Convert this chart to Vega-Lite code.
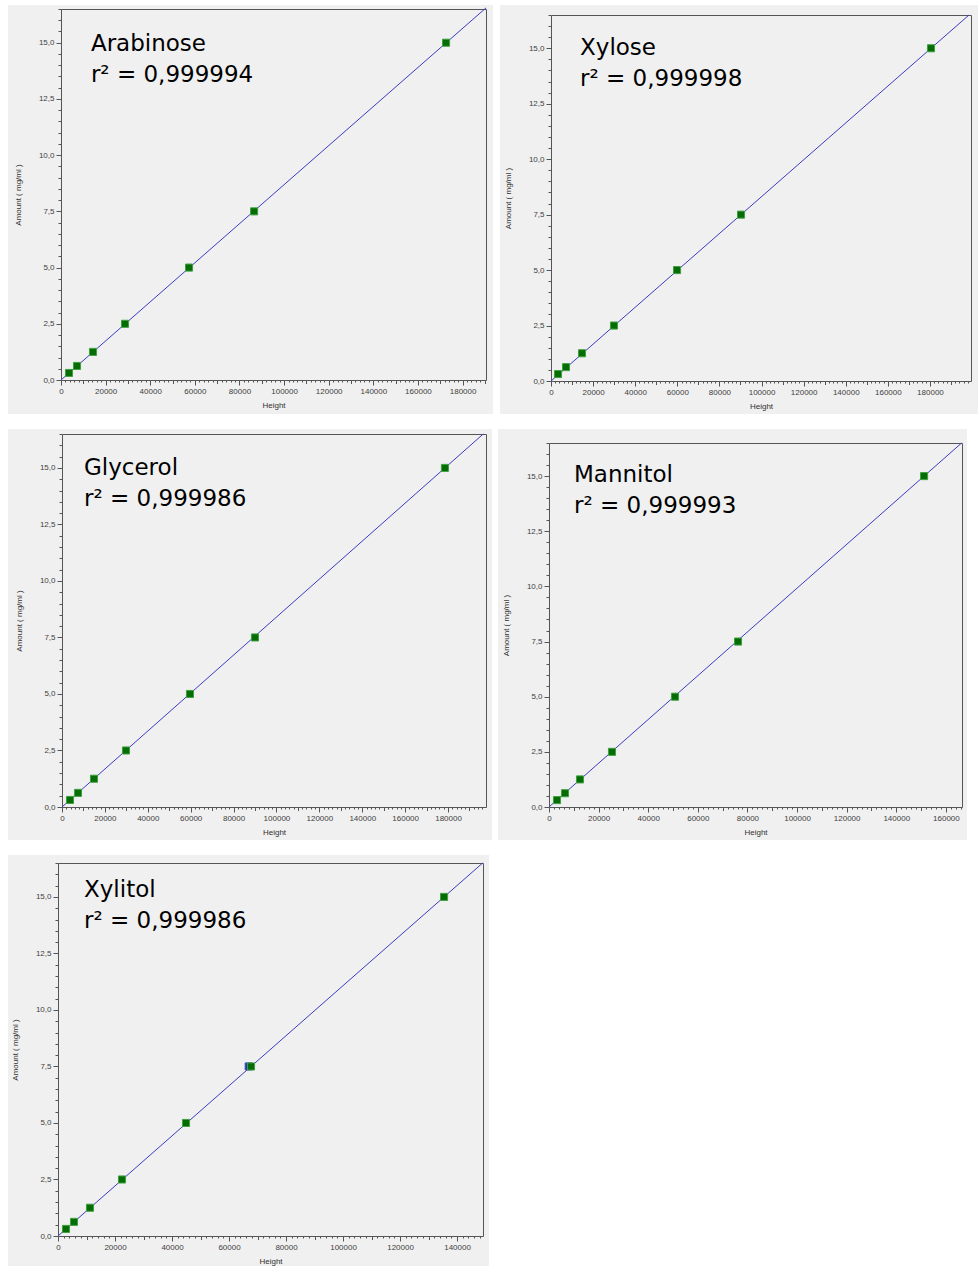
{
  "$schema": "https://vega.github.io/schema/vega-lite/v6.json",
  "background": "white",
  "padding": {"left": 8, "top": 5, "right": 0, "bottom": 0},
  "spacing": 15,
  "datasets": {
    "points": [
      {"sugar": "Arabinose", "series": "green", "height": 3590, "amount": 0.3125},
      {"sugar": "Arabinose", "series": "green", "height": 7180, "amount": 0.625},
      {"sugar": "Arabinose", "series": "green", "height": 14350, "amount": 1.25},
      {"sugar": "Arabinose", "series": "green", "height": 28700, "amount": 2.5},
      {"sugar": "Arabinose", "series": "green", "height": 57400, "amount": 5},
      {"sugar": "Arabinose", "series": "green", "height": 86550, "amount": 7.5},
      {"sugar": "Arabinose", "series": "green", "height": 172600, "amount": 15},
      {"sugar": "Xylose", "series": "green", "height": 3330, "amount": 0.3125},
      {"sugar": "Xylose", "series": "green", "height": 7130, "amount": 0.625},
      {"sugar": "Xylose", "series": "green", "height": 14730, "amount": 1.25},
      {"sugar": "Xylose", "series": "green", "height": 29930, "amount": 2.5},
      {"sugar": "Xylose", "series": "green", "height": 59860, "amount": 5},
      {"sugar": "Xylose", "series": "green", "height": 90260, "amount": 7.5},
      {"sugar": "Xylose", "series": "green", "height": 180500, "amount": 15},
      {"sugar": "Glycerol", "series": "green", "height": 3730, "amount": 0.3125},
      {"sugar": "Glycerol", "series": "green", "height": 7460, "amount": 0.625},
      {"sugar": "Glycerol", "series": "green", "height": 14920, "amount": 1.25},
      {"sugar": "Glycerol", "series": "green", "height": 29840, "amount": 2.5},
      {"sugar": "Glycerol", "series": "green", "height": 59670, "amount": 5},
      {"sugar": "Glycerol", "series": "green", "height": 89980, "amount": 7.5},
      {"sugar": "Glycerol", "series": "green", "height": 178550, "amount": 15},
      {"sugar": "Mannitol", "series": "green", "height": 3230, "amount": 0.3125},
      {"sugar": "Mannitol", "series": "green", "height": 6450, "amount": 0.625},
      {"sugar": "Mannitol", "series": "green", "height": 12500, "amount": 1.25},
      {"sugar": "Mannitol", "series": "green", "height": 25400, "amount": 2.5},
      {"sugar": "Mannitol", "series": "green", "height": 50800, "amount": 5},
      {"sugar": "Mannitol", "series": "green", "height": 76210, "amount": 7.5},
      {"sugar": "Mannitol", "series": "green", "height": 151210, "amount": 15},
      {"sugar": "Xylitol", "series": "blue", "height": 66900, "amount": 7.5},
      {"sugar": "Xylitol", "series": "green", "height": 2810, "amount": 0.3125},
      {"sugar": "Xylitol", "series": "green", "height": 5610, "amount": 0.625},
      {"sugar": "Xylitol", "series": "green", "height": 11230, "amount": 1.25},
      {"sugar": "Xylitol", "series": "green", "height": 22460, "amount": 2.5},
      {"sugar": "Xylitol", "series": "green", "height": 44910, "amount": 5},
      {"sugar": "Xylitol", "series": "green", "height": 67720, "amount": 7.5},
      {"sugar": "Xylitol", "series": "green", "height": 135440, "amount": 15}
    ],
    "lines": [
      {"sugar": "Arabinose", "height": 0, "amount": 0},
      {"sugar": "Arabinose", "height": 190500, "amount": 16.55},
      {"sugar": "Xylose", "height": 0, "amount": 0},
      {"sugar": "Xylose", "height": 198550, "amount": 16.5},
      {"sugar": "Glycerol", "height": 0, "amount": 0},
      {"sugar": "Glycerol", "height": 196400, "amount": 16.5},
      {"sugar": "Mannitol", "height": 0, "amount": 0},
      {"sugar": "Mannitol", "height": 166330, "amount": 16.5},
      {"sugar": "Xylitol", "height": 0, "amount": 0},
      {"sugar": "Xylitol", "height": 148980, "amount": 16.5}
    ],
    "labels": [
      {"sugar": "Arabinose", "lines": ["Arabinose", "r² = 0,999994"]},
      {"sugar": "Xylose", "lines": ["Xylose", "r² = 0,999998"]},
      {"sugar": "Glycerol", "lines": ["Glycerol", "r² = 0,999986"]},
      {"sugar": "Mannitol", "lines": ["Mannitol", "r² = 0,999993"]},
      {"sugar": "Xylitol", "lines": ["Xylitol", "r² = 0,999986"]}
    ]
  },
  "vconcat": [
    {
      "spacing": 7,
      "hconcat": [
        {
          "width": 485, "height": 409,
          "resolve": {"axis": {"x": "independent", "y": "independent"}},
          "layer": [
            {
              "data": {"name": "lines"},
              "transform": [{"filter": "datum.sugar === 'Arabinose'"}],
              "mark": {"type": "line", "color": "#3c3cc0", "strokeWidth": 1, "clip": true},
              "encoding": {
                "x": {"field": "height", "type": "quantitative", "scale": {"domain": [0, 190500], "range": [53, 478], "nice": false}, "axis": {"orient": "top", "offset": -4, "labels": false, "ticks": false, "title": null}},
                "y": {"field": "amount", "type": "quantitative", "scale": {"domain": [0, 16.5], "range": [375, 4], "nice": false}, "axis": {"orient": "right", "offset": -7, "labels": false, "ticks": false, "title": null}}
              }
            },
            {
              "data": {"name": "points"},
              "transform": [{"filter": "datum.sugar === 'Arabinose'"}],
              "mark": {"type": "point", "shape": "square", "filled": true, "size": 50, "strokeWidth": 1, "opacity": 1},
              "encoding": {
                "x": {"field": "height", "type": "quantitative", "axis": {"orient": "bottom", "offset": -34, "title": "Height", "tickCount": 95, "labelExpr": "datum.value % 20000 === 0 ? format(datum.value, 'd') : ''", "tickSize": {"condition": [{"test": "datum.value % 20000 === 0", "value": 5}, {"test": "datum.value % 10000 === 0", "value": 3.5}], "value": 2}}},
                "y": {"field": "amount", "type": "quantitative", "axis": {"orient": "left", "offset": -53, "title": "Amount ( mg/ml )", "tickCount": 33, "labelExpr": "datum.value % 2.5 === 0 ? replace(format(datum.value, '.1f'), '.', ',') : ''", "tickSize": {"condition": {"test": "datum.value % 2.5 === 0", "value": 5}, "value": 3}}},
                "fill": {"field": "series", "type": "nominal", "scale": {"domain": ["blue", "green"], "range": ["#2436b4", "#066c06"]}, "legend": null},
                "stroke": {"field": "series", "type": "nominal", "scale": {"domain": ["blue", "green"], "range": ["#3a4fd0", "#3fa03f"]}, "legend": null}
              }
            },
            {
              "data": {"name": "labels"},
              "transform": [{"filter": "datum.sugar === 'Arabinose'"}],
              "mark": {"type": "text", "align": "left", "baseline": "alphabetic", "font": "DejaVu Sans", "fontSize": 23, "lineHeight": 31, "color": "#000000"},
              "encoding": {
                "text": {"field": "lines", "type": "nominal"},
                "x": {"datum": 13400, "type": "quantitative", "axis": null},
                "y": {"datum": 14.63, "type": "quantitative", "axis": null}
              }
            }
          ]
        },
        {
          "width": 478, "height": 409,
          "resolve": {"axis": {"x": "independent", "y": "independent"}},
          "layer": [
            {
              "data": {"name": "lines"},
              "transform": [{"filter": "datum.sugar === 'Xylose'"}],
              "mark": {"type": "line", "color": "#3c3cc0", "strokeWidth": 1, "clip": true},
              "encoding": {
                "x": {"field": "height", "type": "quantitative", "scale": {"domain": [0, 199500], "range": [51, 471], "nice": false}, "axis": {"orient": "top", "offset": -10, "labels": false, "ticks": false, "title": null}},
                "y": {"field": "amount", "type": "quantitative", "scale": {"domain": [0, 16.5], "range": [376, 10], "nice": false}, "axis": {"orient": "right", "offset": -7, "labels": false, "ticks": false, "title": null}}
              }
            },
            {
              "data": {"name": "points"},
              "transform": [{"filter": "datum.sugar === 'Xylose'"}],
              "mark": {"type": "point", "shape": "square", "filled": true, "size": 50, "strokeWidth": 1, "opacity": 1},
              "encoding": {
                "x": {"field": "height", "type": "quantitative", "axis": {"orient": "bottom", "offset": -33, "title": "Height", "tickCount": 100, "labelExpr": "datum.value % 20000 === 0 ? format(datum.value, 'd') : ''", "tickSize": {"condition": [{"test": "datum.value % 20000 === 0", "value": 5}, {"test": "datum.value % 10000 === 0", "value": 3.5}], "value": 2}}},
                "y": {"field": "amount", "type": "quantitative", "axis": {"orient": "left", "offset": -51, "title": "Amount ( mg/ml )", "tickCount": 33, "labelExpr": "datum.value % 2.5 === 0 ? replace(format(datum.value, '.1f'), '.', ',') : ''", "tickSize": {"condition": {"test": "datum.value % 2.5 === 0", "value": 5}, "value": 3}}},
                "fill": {"field": "series", "type": "nominal", "scale": {"domain": ["blue", "green"], "range": ["#2436b4", "#066c06"]}, "legend": null},
                "stroke": {"field": "series", "type": "nominal", "scale": {"domain": ["blue", "green"], "range": ["#3a4fd0", "#3fa03f"]}, "legend": null}
              }
            },
            {
              "data": {"name": "labels"},
              "transform": [{"filter": "datum.sugar === 'Xylose'"}],
              "mark": {"type": "text", "align": "left", "baseline": "alphabetic", "font": "DejaVu Sans", "fontSize": 23, "lineHeight": 31, "color": "#000000"},
              "encoding": {
                "text": {"field": "lines", "type": "nominal"},
                "x": {"datum": 13780, "type": "quantitative", "axis": null},
                "y": {"datum": 14.7, "type": "quantitative", "axis": null}
              }
            }
          ]
        }
      ]
    },
    {
      "spacing": 6,
      "hconcat": [
        {
          "width": 484, "height": 411,
          "resolve": {"axis": {"x": "independent", "y": "independent"}},
          "layer": [
            {
              "data": {"name": "lines"},
              "transform": [{"filter": "datum.sugar === 'Glycerol'"}],
              "mark": {"type": "line", "color": "#3c3cc0", "strokeWidth": 1, "clip": true},
              "encoding": {
                "x": {"field": "height", "type": "quantitative", "scale": {"domain": [0, 197700], "range": [54, 478], "nice": false}, "axis": {"orient": "top", "offset": -5, "labels": false, "ticks": false, "title": null}},
                "y": {"field": "amount", "type": "quantitative", "scale": {"domain": [0, 16.5], "range": [378, 5], "nice": false}, "axis": {"orient": "right", "offset": -6, "labels": false, "ticks": false, "title": null}}
              }
            },
            {
              "data": {"name": "points"},
              "transform": [{"filter": "datum.sugar === 'Glycerol'"}],
              "mark": {"type": "point", "shape": "square", "filled": true, "size": 50, "strokeWidth": 1, "opacity": 1},
              "encoding": {
                "x": {"field": "height", "type": "quantitative", "axis": {"orient": "bottom", "offset": -33, "title": "Height", "tickCount": 99, "labelExpr": "datum.value % 20000 === 0 ? format(datum.value, 'd') : ''", "tickSize": {"condition": [{"test": "datum.value % 20000 === 0", "value": 5}, {"test": "datum.value % 10000 === 0", "value": 3.5}], "value": 2}}},
                "y": {"field": "amount", "type": "quantitative", "axis": {"orient": "left", "offset": -54, "title": "Amount ( mg/ml )", "tickCount": 33, "labelExpr": "datum.value % 2.5 === 0 ? replace(format(datum.value, '.1f'), '.', ',') : ''", "tickSize": {"condition": {"test": "datum.value % 2.5 === 0", "value": 5}, "value": 3}}},
                "fill": {"field": "series", "type": "nominal", "scale": {"domain": ["blue", "green"], "range": ["#2436b4", "#066c06"]}, "legend": null},
                "stroke": {"field": "series", "type": "nominal", "scale": {"domain": ["blue", "green"], "range": ["#3a4fd0", "#3fa03f"]}, "legend": null}
              }
            },
            {
              "data": {"name": "labels"},
              "transform": [{"filter": "datum.sugar === 'Glycerol'"}],
              "mark": {"type": "text", "align": "left", "baseline": "alphabetic", "font": "DejaVu Sans", "fontSize": 23, "lineHeight": 31, "color": "#000000"},
              "encoding": {
                "text": {"field": "lines", "type": "nominal"},
                "x": {"datum": 10260, "type": "quantitative", "axis": null},
                "y": {"datum": 14.69, "type": "quantitative", "axis": null}
              }
            }
          ]
        },
        {
          "width": 469, "height": 411,
          "resolve": {"axis": {"x": "independent", "y": "independent"}},
          "layer": [
            {
              "data": {"name": "lines"},
              "transform": [{"filter": "datum.sugar === 'Mannitol'"}],
              "mark": {"type": "line", "color": "#3c3cc0", "strokeWidth": 1, "clip": true},
              "encoding": {
                "x": {"field": "height", "type": "quantitative", "scale": {"domain": [0, 166500], "range": [51, 464], "nice": false}, "axis": {"orient": "top", "offset": -14, "labels": false, "ticks": false, "title": null}},
                "y": {"field": "amount", "type": "quantitative", "scale": {"domain": [0, 16.5], "range": [378, 14], "nice": false}, "axis": {"orient": "right", "offset": -5, "labels": false, "ticks": false, "title": null}}
              }
            },
            {
              "data": {"name": "points"},
              "transform": [{"filter": "datum.sugar === 'Mannitol'"}],
              "mark": {"type": "point", "shape": "square", "filled": true, "size": 50, "strokeWidth": 1, "opacity": 1},
              "encoding": {
                "x": {"field": "height", "type": "quantitative", "axis": {"orient": "bottom", "offset": -33, "title": "Height", "tickCount": 83, "labelExpr": "datum.value % 20000 === 0 ? format(datum.value, 'd') : ''", "tickSize": {"condition": [{"test": "datum.value % 20000 === 0", "value": 5}, {"test": "datum.value % 10000 === 0", "value": 3.5}], "value": 2}}},
                "y": {"field": "amount", "type": "quantitative", "axis": {"orient": "left", "offset": -51, "title": "Amount ( mg/ml )", "tickCount": 33, "labelExpr": "datum.value % 2.5 === 0 ? replace(format(datum.value, '.1f'), '.', ',') : ''", "tickSize": {"condition": {"test": "datum.value % 2.5 === 0", "value": 5}, "value": 3}}},
                "fill": {"field": "series", "type": "nominal", "scale": {"domain": ["blue", "green"], "range": ["#2436b4", "#066c06"]}, "legend": null},
                "stroke": {"field": "series", "type": "nominal", "scale": {"domain": ["blue", "green"], "range": ["#3a4fd0", "#3fa03f"]}, "legend": null}
              }
            },
            {
              "data": {"name": "labels"},
              "transform": [{"filter": "datum.sugar === 'Mannitol'"}],
              "mark": {"type": "text", "align": "left", "baseline": "alphabetic", "font": "DejaVu Sans", "fontSize": 23, "lineHeight": 31, "color": "#000000"},
              "encoding": {
                "text": {"field": "lines", "type": "nominal"},
                "x": {"datum": 10080, "type": "quantitative", "axis": null},
                "y": {"datum": 14.73, "type": "quantitative", "axis": null}
              }
            }
          ]
        }
      ]
    },
    {
      "width": 481, "height": 411,
      "resolve": {"axis": {"x": "independent", "y": "independent"}},
      "layer": [
        {
          "data": {"name": "lines"},
          "transform": [{"filter": "datum.sugar === 'Xylitol'"}],
          "mark": {"type": "line", "color": "#3c3cc0", "strokeWidth": 1, "clip": true},
          "encoding": {
            "x": {"field": "height", "type": "quantitative", "scale": {"domain": [0, 149100], "range": [50, 475], "nice": false}, "axis": {"orient": "top", "offset": -8, "labels": false, "ticks": false, "title": null}},
            "y": {"field": "amount", "type": "quantitative", "scale": {"domain": [0, 16.5], "range": [381, 8], "nice": false}, "axis": {"orient": "right", "offset": -6, "labels": false, "ticks": false, "title": null}}
          }
        },
        {
          "data": {"name": "points"},
          "transform": [{"filter": "datum.sugar === 'Xylitol'"}],
          "mark": {"type": "point", "shape": "square", "filled": true, "size": 50, "strokeWidth": 1, "opacity": 1},
          "encoding": {
            "x": {"field": "height", "type": "quantitative", "axis": {"orient": "bottom", "offset": -30, "title": "Height", "tickCount": 75, "labelExpr": "datum.value % 20000 === 0 ? format(datum.value, 'd') : ''", "tickSize": {"condition": [{"test": "datum.value % 20000 === 0", "value": 5}, {"test": "datum.value % 10000 === 0", "value": 3.5}], "value": 2}}},
            "y": {"field": "amount", "type": "quantitative", "axis": {"orient": "left", "offset": -50, "title": "Amount ( mg/ml )", "tickCount": 33, "labelExpr": "datum.value % 2.5 === 0 ? replace(format(datum.value, '.1f'), '.', ',') : ''", "tickSize": {"condition": {"test": "datum.value % 2.5 === 0", "value": 5}, "value": 3}}},
            "fill": {"field": "series", "type": "nominal", "scale": {"domain": ["blue", "green"], "range": ["#2436b4", "#066c06"]}, "legend": null},
            "stroke": {"field": "series", "type": "nominal", "scale": {"domain": ["blue", "green"], "range": ["#3a4fd0", "#3fa03f"]}, "legend": null}
          }
        },
        {
          "data": {"name": "labels"},
          "transform": [{"filter": "datum.sugar === 'Xylitol'"}],
          "mark": {"type": "text", "align": "left", "baseline": "alphabetic", "font": "DejaVu Sans", "fontSize": 23, "lineHeight": 31, "color": "#000000"},
          "encoding": {
            "text": {"field": "lines", "type": "nominal"},
            "x": {"datum": 9120, "type": "quantitative", "axis": null},
            "y": {"datum": 15.0, "type": "quantitative", "axis": null}
          }
        }
      ]
    }
  ],
  "config": {
    "view": {"stroke": null, "fill": "#f0f0f0"},
    "axis": {
      "grid": false,
      "labelFont": "Liberation Sans",
      "labelFontSize": 8,
      "labelColor": "#404040",
      "labelFlush": false,
      "labelOverlap": false,
      "labelPadding": 2,
      "titleFont": "Liberation Sans",
      "titleFontSize": 8,
      "titleFontWeight": "normal",
      "titleColor": "#303030",
      "domainColor": "#555555",
      "tickColor": "#555555"
    },
    "axisX": {"titlePadding": 6},
    "axisY": {"titlePadding": 16}
  }
}
